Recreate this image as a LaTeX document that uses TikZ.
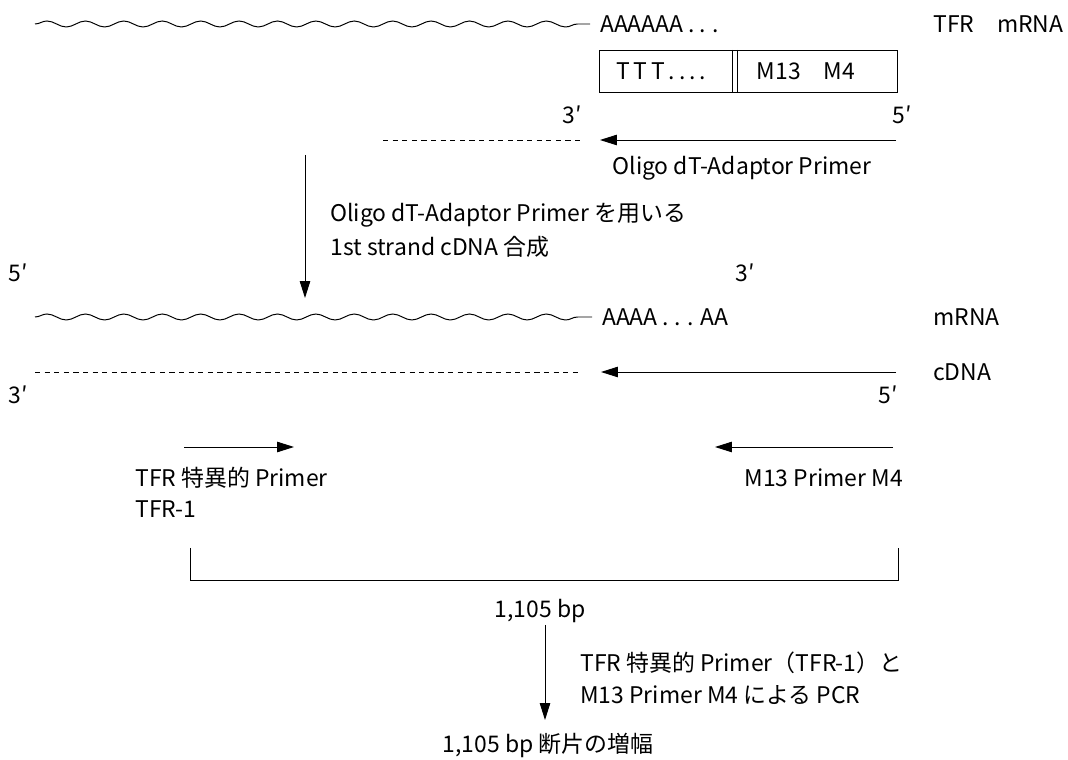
\documentclass[tikz,border=0pt]{standalone}
\usepackage{fontspec}
\setmainfont{Noto Sans CJK JP}
\usepackage{tikz}
\usetikzlibrary{arrows.meta,positioning,calc,decorations.pathmorphing}

\begin{document}
\begin{tikzpicture}[x=0.025cm,y=-0.025cm,>={Triangle[length=0.42cm,width=0.26cm]},
  lbl/.style={inner sep=0pt,font=\fontsize{16.3}{19}\selectfont},
  strand/.style={line width=0.65pt},
  wavy/.style={line width=0.7pt,decorate,decoration={snake,segment length=0.96cm,amplitude=0.075cm}},
  tail/.style={line width=0.6pt,dash pattern=on 0.13cm off 0.11cm}]
  \useasboundingbox (0,0) rectangle (1068,760);

  % TFR mRNA
  \coordinate (w1s) at (35,24);
  \coordinate (w1e) at (590,24);
  \draw[wavy] (w1s) -- (w1e);
  \node[lbl,anchor=west] (polyA) at (600,24) {AAAAAA . . .};
  \node[lbl,anchor=west] (tfrm) at (933,24) {TFR\quad mRNA};

  % Adaptor primer box
  \node[draw,strand,minimum width=7.43cm,minimum height=1.05cm,inner sep=0pt] (box) at (748.5,71) {};
  \draw[strand] (732,50) -- (732,92) (737,50) -- (737,92);
  \node[lbl] (ttt) at (661,71) {T\,T\,T\,.\,.\,.\,.};
  \node[lbl] (m13) at (806,71) {M13\quad M4};

  % primer strand
  \node[lbl] (p3a) at (572,115) {3′};
  \node[lbl] (p5a) at (902,115) {5′};
  \coordinate (pa1) at (896,140);
  \coordinate (pa2) at (600,140);
  \coordinate (pd1) at (383,140);
  \coordinate (pd2) at (582,140);
  \draw[strand,->] (pa1) -- (pa2);
  \draw[tail] (pd1) -- (pd2);
  \node[lbl] (oligo) at (742,168) {Oligo dT-Adaptor Primer};

  % 1st strand step
  \coordinate (s1a) at (305,155);
  \coordinate (s1b) at (305,298);
  \draw[strand,->] (s1a) -- (s1b);
  \node[lbl,anchor=west] (step1) at (330,215) {Oligo dT-Adaptor Primer を用いる};
  \node[lbl,anchor=west] (step2) at (330,247) {1st strand cDNA 合成};

  % hybrid
  \node[lbl] (m5) at (18,273) {5′};
  \node[lbl] (m3) at (745,273) {3′};
  \coordinate (w2s) at (35,317);
  \coordinate (w2e) at (592,317);
  \draw[wavy] (w2s) -- (w2e);
  \node[lbl,anchor=west] (polyA2) at (602,317) {AAAA . . . AA};
  \node[lbl,anchor=west] (mrna) at (933,317) {mRNA};
  \coordinate (c1) at (35,372);
  \coordinate (c2) at (582,372);
  \coordinate (c3) at (896,372);
  \coordinate (c4) at (601,372);
  \draw[tail] (c1) -- (c2);
  \draw[strand,->] (c3) -- (c4);
  \node[lbl,anchor=west] (cdna) at (933,372) {cDNA};
  \node[lbl] (c3p) at (18,395) {3′};
  \node[lbl] (c5p) at (888,395) {5′};

  % PCR primers
  \coordinate (f1) at (184,447);
  \coordinate (f2) at (294,447);
  \coordinate (r1) at (893,447);
  \coordinate (r2) at (715,447);
  \draw[strand,->] (f1) -- (f2);
  \draw[strand,->] (r1) -- (r2);
  \node[lbl,anchor=west] (fwd) at (135,478) {TFR 特異的 Primer};
  \node[lbl,anchor=west] (fwd2) at (135,509) {TFR-1};
  \node[lbl,anchor=east] (rev) at (903,478) {M13 Primer M4};

  % product
  \coordinate (b1) at (190,548);
  \coordinate (b2) at (898,548);
  \draw[strand] (b1) -- (b1 |- 0,580) -- (b2 |- 0,580) -- (b2);
  \node[lbl] (len) at (540,611) {1,105 bp};
  \coordinate (s2a) at (545,625);
  \coordinate (s2b) at (545,720);
  \draw[strand,->] (s2a) -- (s2b);
  \node[lbl,anchor=west] (pcr1) at (580,663) {TFR 特異的 Primer（TFR-1）と};
  \node[lbl,anchor=west] (pcr2) at (580,695) {M13 Primer M4 による PCR};
  \node[lbl] (amp) at (548,745) {1,105 bp 断片の増幅};
\end{tikzpicture}
\end{document}
